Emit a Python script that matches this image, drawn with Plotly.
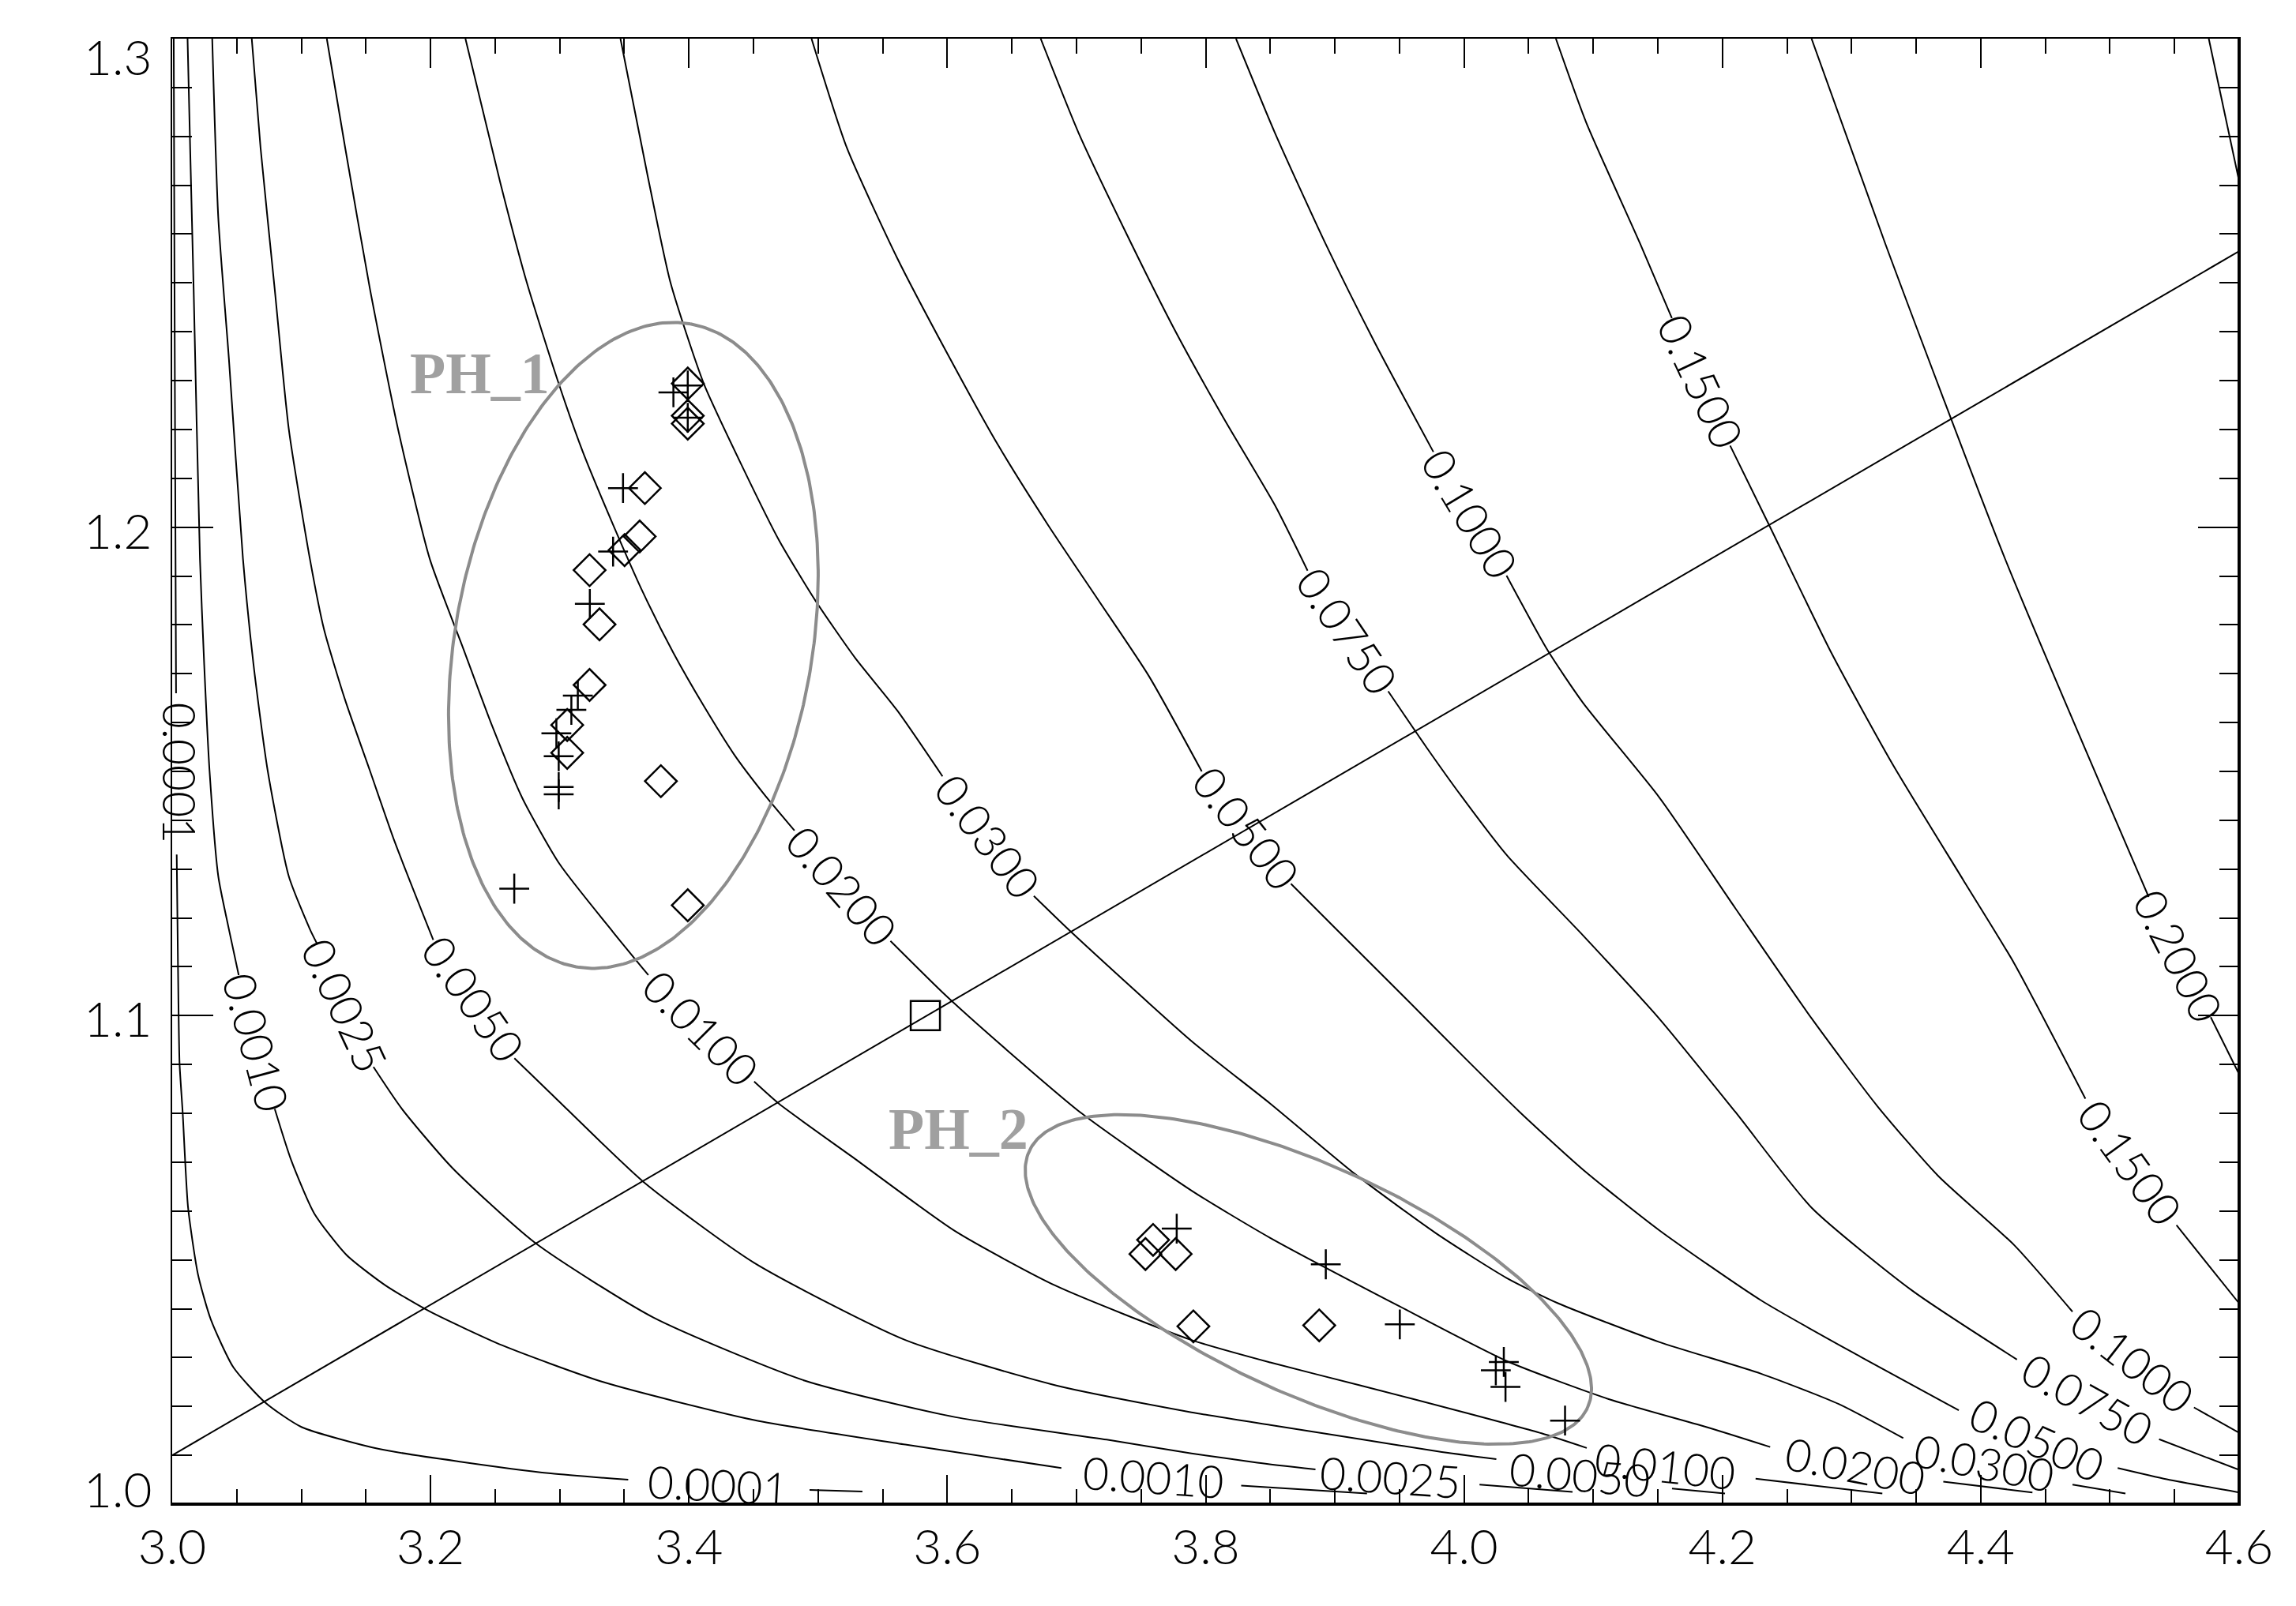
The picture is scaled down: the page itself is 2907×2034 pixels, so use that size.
import numpy as np
import plotly.graph_objects as go

# ---- contour lines; None opens the gap where the label sits ----
C0001_X = [3.0012, 3.0018, 3.0025, 3.0030, None, 3.0035, 3.0045, 3.0057, 3.0081, 3.0123, 3.0200,
           3.0299, 3.0474, 3.0720, 3.1000, 3.1600, 3.2228, 3.2930, 3.3530, None, 3.4934, 3.5343]
C0001_Y = [1.3000, 1.2500, 1.2000, 1.1660, None, 1.1330, 1.1100, 1.0903, 1.0803, 1.0607, 1.0470,
           1.0378, 1.0280, 1.0208, 1.0158, 1.0113, 1.0087, 1.0063, 1.0050, None, 1.0029, 1.0026]

C0010_X = [3.0119, 3.0139, 3.0166, 3.0215, 3.0248, 3.0289, 3.0357, 3.0439, 3.0515, None,
           3.0794, 3.0920, 3.1100, 3.1350, 3.1650, 3.1990, 3.2556, 3.3335, 3.4505, 3.5675, 3.6883,
           None, 3.8275, 3.9249]
C0010_Y = [1.3000, 1.2777, 1.2489, 1.1935, 1.1718, 1.1502, 1.1285, 1.1177, 1.1083, None,
           1.0809, 1.0705, 1.0595, 1.0510, 1.0448, 1.0395, 1.0325, 1.0250, 1.0172, 1.0122, 1.0074,
           None, 1.0038, 1.0022]

C0025_X = [3.0310, 3.0357, 3.0439, 3.0548, 3.0630, 3.0739, 3.0903, 3.1066, 3.1120, None,
           3.1558, 3.1776, 3.2166, 3.2809, 3.3725, 3.4895, 3.6064, 3.7234, 3.7890, 3.8400, 3.8850,
           None, 4.0120, 4.0840]
C0025_Y = [1.3000, 1.2633, 1.2345, 1.1935, 1.1718, 1.1502, 1.1285, 1.1177, 1.1148, None,
           1.0895, 1.0810, 1.0689, 1.0535, 1.0382, 1.0253, 1.0178, 1.0132, 1.0104, 1.0085, 1.0071,
           None, 1.0040, 1.0025]

C0050_X = [3.0616, 3.0684, 3.0793, 3.0903, 3.1066, 3.1176, 3.1339, 3.1530, 3.1721, 3.2021, None,
           3.2649, 3.2946, 3.3647, 3.4505, 3.5675, 3.6844, 3.7890, 3.8500, 3.9200, 3.9800, 4.0250,
           None, 4.1610, 4.2020]
C0050_Y = [1.3000, 1.2777, 1.2489, 1.2200, 1.1935, 1.1790, 1.1646, 1.1502, 1.1357, 1.1155, None,
           1.0913, 1.0837, 1.0660, 1.0494, 1.0336, 1.0243, 1.0188, 1.0162, 1.0133, 1.0108, 1.0092,
           None, 1.0032, 1.0022]

C0100_X = [3.1197, 3.1339, 3.1530, 3.1749, 3.1994, 3.2244, 3.2477, 3.2711, 3.3000, 3.3413, 3.3686,
           None, 3.4505, 3.4700, 3.5285, 3.6060, 3.6840, 3.7890, 3.8500, 3.9200, 4.0000, 4.0600,
           4.0950, None, 4.2257, 4.3238]
C0100_Y = [1.3000, 1.2777, 1.2489, 1.2200, 1.1935, 1.1758, 1.1593, 1.1445, 1.1310, 1.1171, 1.1083,
           None, 1.0865, 1.0819, 1.0707, 1.0559, 1.0447, 1.0336, 1.0290, 1.0243, 1.0188, 1.0145,
           1.0115, None, 1.0052, 1.0022]

C0200_X = [3.2270, 3.2540, 3.2746, 3.2992, 3.3179, 3.3413, 3.3647, 3.3881, 3.4115, 3.4349, 3.4583,
           3.4817, None, 3.5560, 3.5990, 3.6460, 3.7040, 3.7890, 3.8500, 3.9500, 4.0330, 4.1120,
           4.1900, 4.2370, None, 4.3710, 4.4400]
C0200_Y = [1.3000, 1.2705, 1.2500, 1.2294, 1.2154, 1.2005, 1.1865, 1.1742, 1.1634, 1.1535, 1.1453,
           1.1379, None, 1.1153, 1.1041, 1.0930, 1.0800, 1.0642, 1.0545, 1.0405, 1.0293, 1.0215,
           1.0156, 1.0117, None, 1.0046, 1.0024]

C0300_X = [3.3470, 3.3680, 3.3858, 3.4115, 3.4419, 3.4700, 3.4981, 3.5285, 3.5612, 3.5963, None,
           3.6670, 3.6960, 3.7890, 3.8500, 3.9160, 3.9780, 4.0330, 4.0730, 4.1510, 4.2300, 4.2900,
           4.3400, None, 4.4710, 4.5120]
C0300_Y = [1.3000, 1.2720, 1.2500, 1.2294, 1.2121, 1.1972, 1.1849, 1.1733, 1.1625, 1.1490, None,
           1.1245, 1.1171, 1.0948, 1.0820, 1.0675, 1.0555, 1.0463, 1.0411, 1.0332, 1.0267, 1.0205,
           1.0135, None, 1.0040, 1.0022]

C0500_X = [3.4949, 3.5222, 3.5612, 3.6001, 3.6391, 3.6781, 3.7171, 3.7561, 3.7970, None,
           3.8660, 3.9000, 3.9550, 4.0000, 4.0430, 4.0920, 4.1510, 4.2300, 4.3080, 4.3830, None,
           4.5060, 4.5440, 4.6000]
C0500_Y = [1.3000, 1.2777, 1.2551, 1.2355, 1.2169, 1.2004, 1.1850, 1.1695, 1.1500, None,
           1.1270, 1.1180, 1.1035, 1.0915, 1.0803, 1.0685, 1.0561, 1.0417, 1.0300, 1.0192, None,
           1.0074, 1.0051, 1.0024]

C0750_X = [3.6723, 3.7015, 3.7366, 3.7756, 3.8146, 3.8536, 3.8789, None, 3.9413, 3.9705, 3.9978,
           4.0333, 4.0922, 4.1511, 4.2100, 4.2690, 4.3470, 4.4280, None, 4.5380, 4.6000]
C0750_Y = [1.3000, 1.2808, 1.2612, 1.2406, 1.2220, 1.2045, 1.1911, None, 1.1664, 1.1551, 1.1450,
           1.1328, 1.1164, 1.0994, 1.0803, 1.0607, 1.0437, 1.0296, None, 1.0133, 1.0070]

C1000_X = [3.8235, 3.8535, 3.8925, 3.9315, 3.9763, None, 4.0329, 4.0647, 4.0922, 4.1511, 4.2100,
           4.2689, 4.3199, 4.3670, 4.4260, 4.4710, None, 4.5650, 4.6000]
C1000_Y = [1.3000, 1.2808, 1.2582, 1.2375, 1.2154, None, 1.1901, 1.1748, 1.1640, 1.1447, 1.1220,
           1.0995, 1.0815, 1.0672, 1.0530, 1.0394, None, 1.0198, 1.0146]

C1500_X = [4.0711, 4.0945, 4.1362, 4.1609, None, 4.2060, 4.2355, 4.2845, 4.3317, 4.3866, 4.4259,
           4.4810, None, 4.5515, 4.6000]
C1500_Y = [1.3000, 1.2829, 1.2581, 1.2428, None, 1.2167, 1.2008, 1.1742, 1.1515, 1.1277, 1.1107,
           1.0830, None, 1.0571, 1.0411]

C2000_X = [4.2690, 4.3260, 4.4190, 4.5300, None, 4.5780, 4.6000]
C2000_Y = [1.3000, 1.2581, 1.1934, 1.1243, None, 1.0997, 1.0880]

C_CORNER_X = [4.5765, 4.6000]
C_CORNER_Y = [1.3000, 1.2708]

CONTOURS = [(C0001_X, C0001_Y), (C0010_X, C0010_Y), (C0025_X, C0025_Y), (C0050_X, C0050_Y),
            (C0100_X, C0100_Y), (C0200_X, C0200_Y), (C0300_X, C0300_Y), (C0500_X, C0500_Y),
            (C0750_X, C0750_Y), (C1000_X, C1000_Y), (C1500_X, C1500_Y), (C2000_X, C2000_Y),
            (C_CORNER_X, C_CORNER_Y)]

# ---- contour labels ----
LABEL_TEXT = ["0.0001", "0.0010", "0.0025", "0.0050", "0.0100", "0.0200", "0.0300", "0.0500",
              "0.0750", "0.1000", "0.1500", "0.2000",
              "0.0001", "0.0010", "0.0025", "0.0050", "0.0100", "0.0200", "0.0300", "0.0500",
              "0.0750", "0.1000", "0.1500"]
LABEL_X = [3.0060, 3.0655, 3.1339, 3.2335, 3.4096, 3.5189, 3.6317, 3.8315,
           3.9101, 4.0046, 4.1835, 4.5535,
           3.4225, 3.7595, 3.9430, 4.0900, 4.1560, 4.3030, 4.4030, 4.4440,
           4.4830, 4.5180, 4.5160]
LABEL_Y = [1.1496, 1.0946, 1.1022, 1.1034, 1.0974, 1.1266, 1.1368, 1.1385,
           1.1788, 1.2028, 1.2298, 1.1122,
           1.0040, 1.0056, 1.0056, 1.0062, 1.0080, 1.0080, 1.0085, 1.0133,
           1.0215, 1.0296, 1.0700]
LABEL_ANGLE = [90, 75, 65, 55, 45, 49, 53, 52,
               56, 59, 65, 63,
               3, 4, 4, 5, 6, 11, 11, 24,
               29, 38, 54]

# ---- measured points ----
PH1_DIAMOND_X = [3.3991, 3.3991, 3.3991, 3.3659, 3.3619, 3.3502, 3.3231, 3.3308, 3.3231, 3.3058,
                 3.3058, 3.3783, 3.3991]
PH1_DIAMOND_Y = [1.2294, 1.2228, 1.2212, 1.2080, 1.1981, 1.1953, 1.1912, 1.1801, 1.1677, 1.1595,
                 1.1538, 1.1480, 1.1226]
PH1_PLUS_X = [3.3880, 3.3991, 3.3991, 3.3490, 3.3413, 3.3233, 3.3140, 3.3090, 3.2974, 3.2992,
              3.2992, 3.2992, 3.2648]
PH1_PLUS_Y = [1.2276, 1.2290, 1.2224, 1.2080, 1.1950, 1.1843, 1.1655, 1.1626, 1.1578, 1.1531,
              1.1468, 1.1453, 1.1260]
PH2_DIAMOND_X = [3.7593, 3.7534, 3.7768, 3.7905, 3.8879]
PH2_DIAMOND_Y = [1.0541, 1.0512, 1.0512, 1.0364, 1.0366]
PH2_PLUS_X = [3.7776, 3.8930, 3.9503, 4.0308, 4.0246, 4.0321, 4.0782]
PH2_PLUS_Y = [1.0564, 1.0491, 1.0368, 1.0291, 1.0274, 1.0240, 1.0171]
SQUARE_X = [3.583]
SQUARE_Y = [1.100]
DIAG_X = [3.0, 4.6]
DIAG_Y = [1.0100, 1.2565]

# group ellipses: centre (data), semi-axes (px), tilt (deg)
PH1_ELLIPSE = (3.357, 1.1758, 413.5, 226.0, 79.9)
PH2_ELLIPSE = (3.8795, 1.0460, 389.0, 144.0, -24.7)
PH_NAMES = ["PH_1", "PH_2"]
PH_NAME_X = [3.238, 3.6085]
PH_NAME_Y = [1.2315, 1.0767]

Y_TICKS = [1.0, 1.1, 1.2, 1.3]

W, H = 2907, 2034
ML, MR, MT, MB = 210, 80, 41, 137
PX_PER_X = (W - ML - MR) / 1.6
PX_PER_Y = (H - MT - MB) / 0.3

LABEL_FONT = "Lato, Liberation Sans, sans-serif"


def ellipse_path(cx, cy, a, b, ang):
    t = np.linspace(0, 2 * np.pi, 361)
    phi = np.radians(ang)
    dx = a * np.cos(t) * np.cos(phi) - b * np.sin(t) * np.sin(phi)
    dy = a * np.cos(t) * np.sin(phi) + b * np.sin(t) * np.cos(phi)
    return cx + dx / PX_PER_X, cy + dy / PX_PER_Y


fig = go.Figure()

for cx_, cy_ in CONTOURS:
    fig.add_trace(go.Scatter(x=cx_, y=cy_, mode="lines", connectgaps=False,
                             line=dict(color="black", width=2, shape="spline", smoothing=0.6),
                             hoverinfo="skip"))

fig.add_trace(go.Scatter(x=DIAG_X, y=DIAG_Y, mode="lines",
                         line=dict(color="black", width=2), hoverinfo="skip"))

for ell in (PH1_ELLIPSE, PH2_ELLIPSE):
    ex, ey = ellipse_path(*ell)
    fig.add_trace(go.Scatter(x=ex, y=ey, mode="lines",
                             line=dict(color="#8c8c8c", width=4), hoverinfo="skip"))

diamond = dict(symbol="diamond-open", size=31, color="black", line=dict(color="black", width=2.5))
plus = dict(symbol="cross-thin-open", size=27, color="black", line=dict(color="black", width=2.5))
fig.add_trace(go.Scatter(x=PH1_DIAMOND_X, y=PH1_DIAMOND_Y, mode="markers", marker=diamond))
fig.add_trace(go.Scatter(x=PH2_DIAMOND_X, y=PH2_DIAMOND_Y, mode="markers", marker=diamond))
fig.add_trace(go.Scatter(x=PH1_PLUS_X, y=PH1_PLUS_Y, mode="markers", marker=plus))
fig.add_trace(go.Scatter(x=PH2_PLUS_X, y=PH2_PLUS_Y, mode="markers", marker=plus))
fig.add_trace(go.Scatter(x=SQUARE_X, y=SQUARE_Y, mode="markers",
                         marker=dict(symbol="square-open", size=37, color="black",
                                     line=dict(color="black", width=2.5))))

for txt, lx, ly, la in zip(LABEL_TEXT, LABEL_X, LABEL_Y, LABEL_ANGLE):
    fig.add_annotation(x=lx, y=ly, text=txt, textangle=la, showarrow=False,
                       xanchor="center", yanchor="middle",
                       font=dict(family=LABEL_FONT, size=57, color="black", weight=300))

for txt, nx, ny in zip(PH_NAMES, PH_NAME_X, PH_NAME_Y):
    fig.add_annotation(x=nx, y=ny, text=txt, showarrow=False, xanchor="center", yanchor="middle",
                       font=dict(family="Liberation Serif", size=74, color="#a0a0a0", weight=700))

tickfont = dict(family=LABEL_FONT, size=62, color="black", weight=300)

# IDL keeps the end labels of the y axis inside the frame height
for v in Y_TICKS:
    shift = -22 if v == max(Y_TICKS) else (20 if v == min(Y_TICKS) else -3)
    fig.add_annotation(x=0, xref="paper", y=v, yref="y", text=f"{v:.1f}", showarrow=False,
                       xanchor="right", yanchor="middle", xshift=-24, yshift=shift,
                       font=tickfont)

fig.update_xaxes(range=[3.0, 4.6], tick0=3.0, dtick=0.2, tickformat=".1f", automargin=False,
                 ticks="inside", ticklen=37, tickwidth=2, tickcolor="black",
                 showline=True, linecolor="black", linewidth=2, mirror="allticks",
                 showgrid=False, zeroline=False, tickfont=tickfont, ticklabelstandoff=0,
                 minor=dict(tick0=3.0, dtick=0.05, ticklen=19, tickwidth=2, ticks="inside",
                            tickcolor="black", showgrid=False))
fig.update_yaxes(range=[1.0, 1.3], tick0=1.0, dtick=0.1, showticklabels=False, automargin=False,
                 ticks="inside", ticklen=52, tickwidth=2, tickcolor="black",
                 showline=True, linecolor="black", linewidth=2, mirror="allticks",
                 showgrid=False, zeroline=False,
                 minor=dict(tick0=1.0, dtick=0.01, ticklen=25, tickwidth=2, ticks="inside",
                            tickcolor="black", showgrid=False))

# heavier bottom and right frame edges
fig.add_shape(type="line", xref="x domain", yref="y domain", x0=0, x1=1, y0=0, y1=0,
              line=dict(color="black", width=4))
fig.add_shape(type="line", xref="x domain", yref="y domain", x0=1, x1=1, y0=0, y1=1,
              line=dict(color="black", width=4))

fig.update_layout(width=W, height=H, autosize=False, showlegend=False,
                  margin=dict(l=ML, r=MR, t=MT, b=MB, autoexpand=False),
                  plot_bgcolor="white", paper_bgcolor="white")

fig.write_html("out.html")
